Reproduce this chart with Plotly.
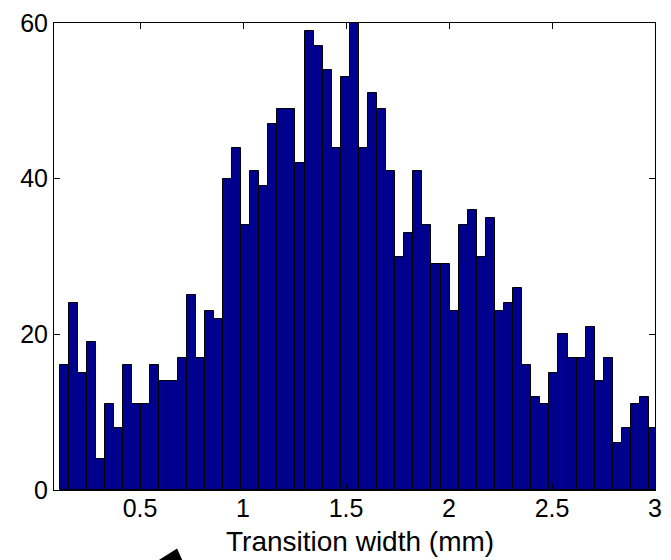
import numpy as np
import plotly.graph_objects as go

# Histogram counts (66 bins)
counts = [16, 24, 15, 19, 4, 11, 8, 16, 11, 11, 16, 14, 14, 17, 25, 17, 23, 22,
          40, 44, 34, 41, 39, 47, 49, 49, 42, 59, 57, 54, 44, 53, 60, 44, 51, 49,
          41, 30, 33, 41, 34, 29, 29, 23, 34, 36, 30, 35, 23, 24, 26, 16, 12, 11,
          15, 20, 17, 17, 21, 14, 17, 6, 8, 11, 12, 8]
bin_lo = 0.1095
bin_hi = 3.0155
x_ticks = [0.5, 1, 1.5, 2, 2.5, 3]
x_tick_labels = ["0.5", "1", "1.5", "2", "2.5", "3"]
y_ticks = [0, 20, 40, 60]
x_title = "Transition width (mm)"

edges = np.linspace(bin_lo, bin_hi, len(counts) + 1)
centers = (edges[:-1] + edges[1:]) / 2
width = edges[1] - edges[0]

fig = go.Figure()
fig.add_trace(go.Bar(
    x=centers, y=counts, width=width,
    marker=dict(color="#00008F", line=dict(color="black", width=1)),
    showlegend=False,
))

font = dict(family="Liberation Sans, Arial, sans-serif", color="black")

fig.update_layout(
    width=671, height=560,
    margin=dict(l=54, r=9, t=19, b=70),
    paper_bgcolor="white", plot_bgcolor="white",
    bargap=0,
    font=dict(**font, size=25),
    xaxis=dict(
        range=[0.082, 3.0], tickvals=x_ticks, ticktext=x_tick_labels,
        ticks="inside", ticklen=6, tickcolor="black", tickwidth=1,
        showline=True, linecolor="black", linewidth=1, mirror="ticks",
        showgrid=False, zeroline=False, ticklabelstandoff=-4,
        tickfont=dict(**font, size=25),
    ),
    yaxis=dict(
        range=[0, 60], tickvals=y_ticks,
        ticks="inside", ticklen=6, tickcolor="black", tickwidth=1,
        showline=True, linecolor="black", linewidth=1, mirror="ticks",
        showgrid=False, zeroline=False,
        tickfont=dict(**font, size=25),
    ),
    annotations=[dict(
        text=x_title, xref="paper", yref="paper", x=0.509, y=-0.073,
        xanchor="center", yanchor="top", showarrow=False,
        font=dict(**font, size=28),
    )],
)

# Partially visible black arrowhead below the axis
fig.add_shape(
    type="path", xref="paper", yref="paper",
    path="M 0.2048 -0.1253 L 0.1500 -0.1699 L 0.2202 -0.1699 Z",
    fillcolor="black", line=dict(color="black", width=0),
)

fig.write_html("out.html")
